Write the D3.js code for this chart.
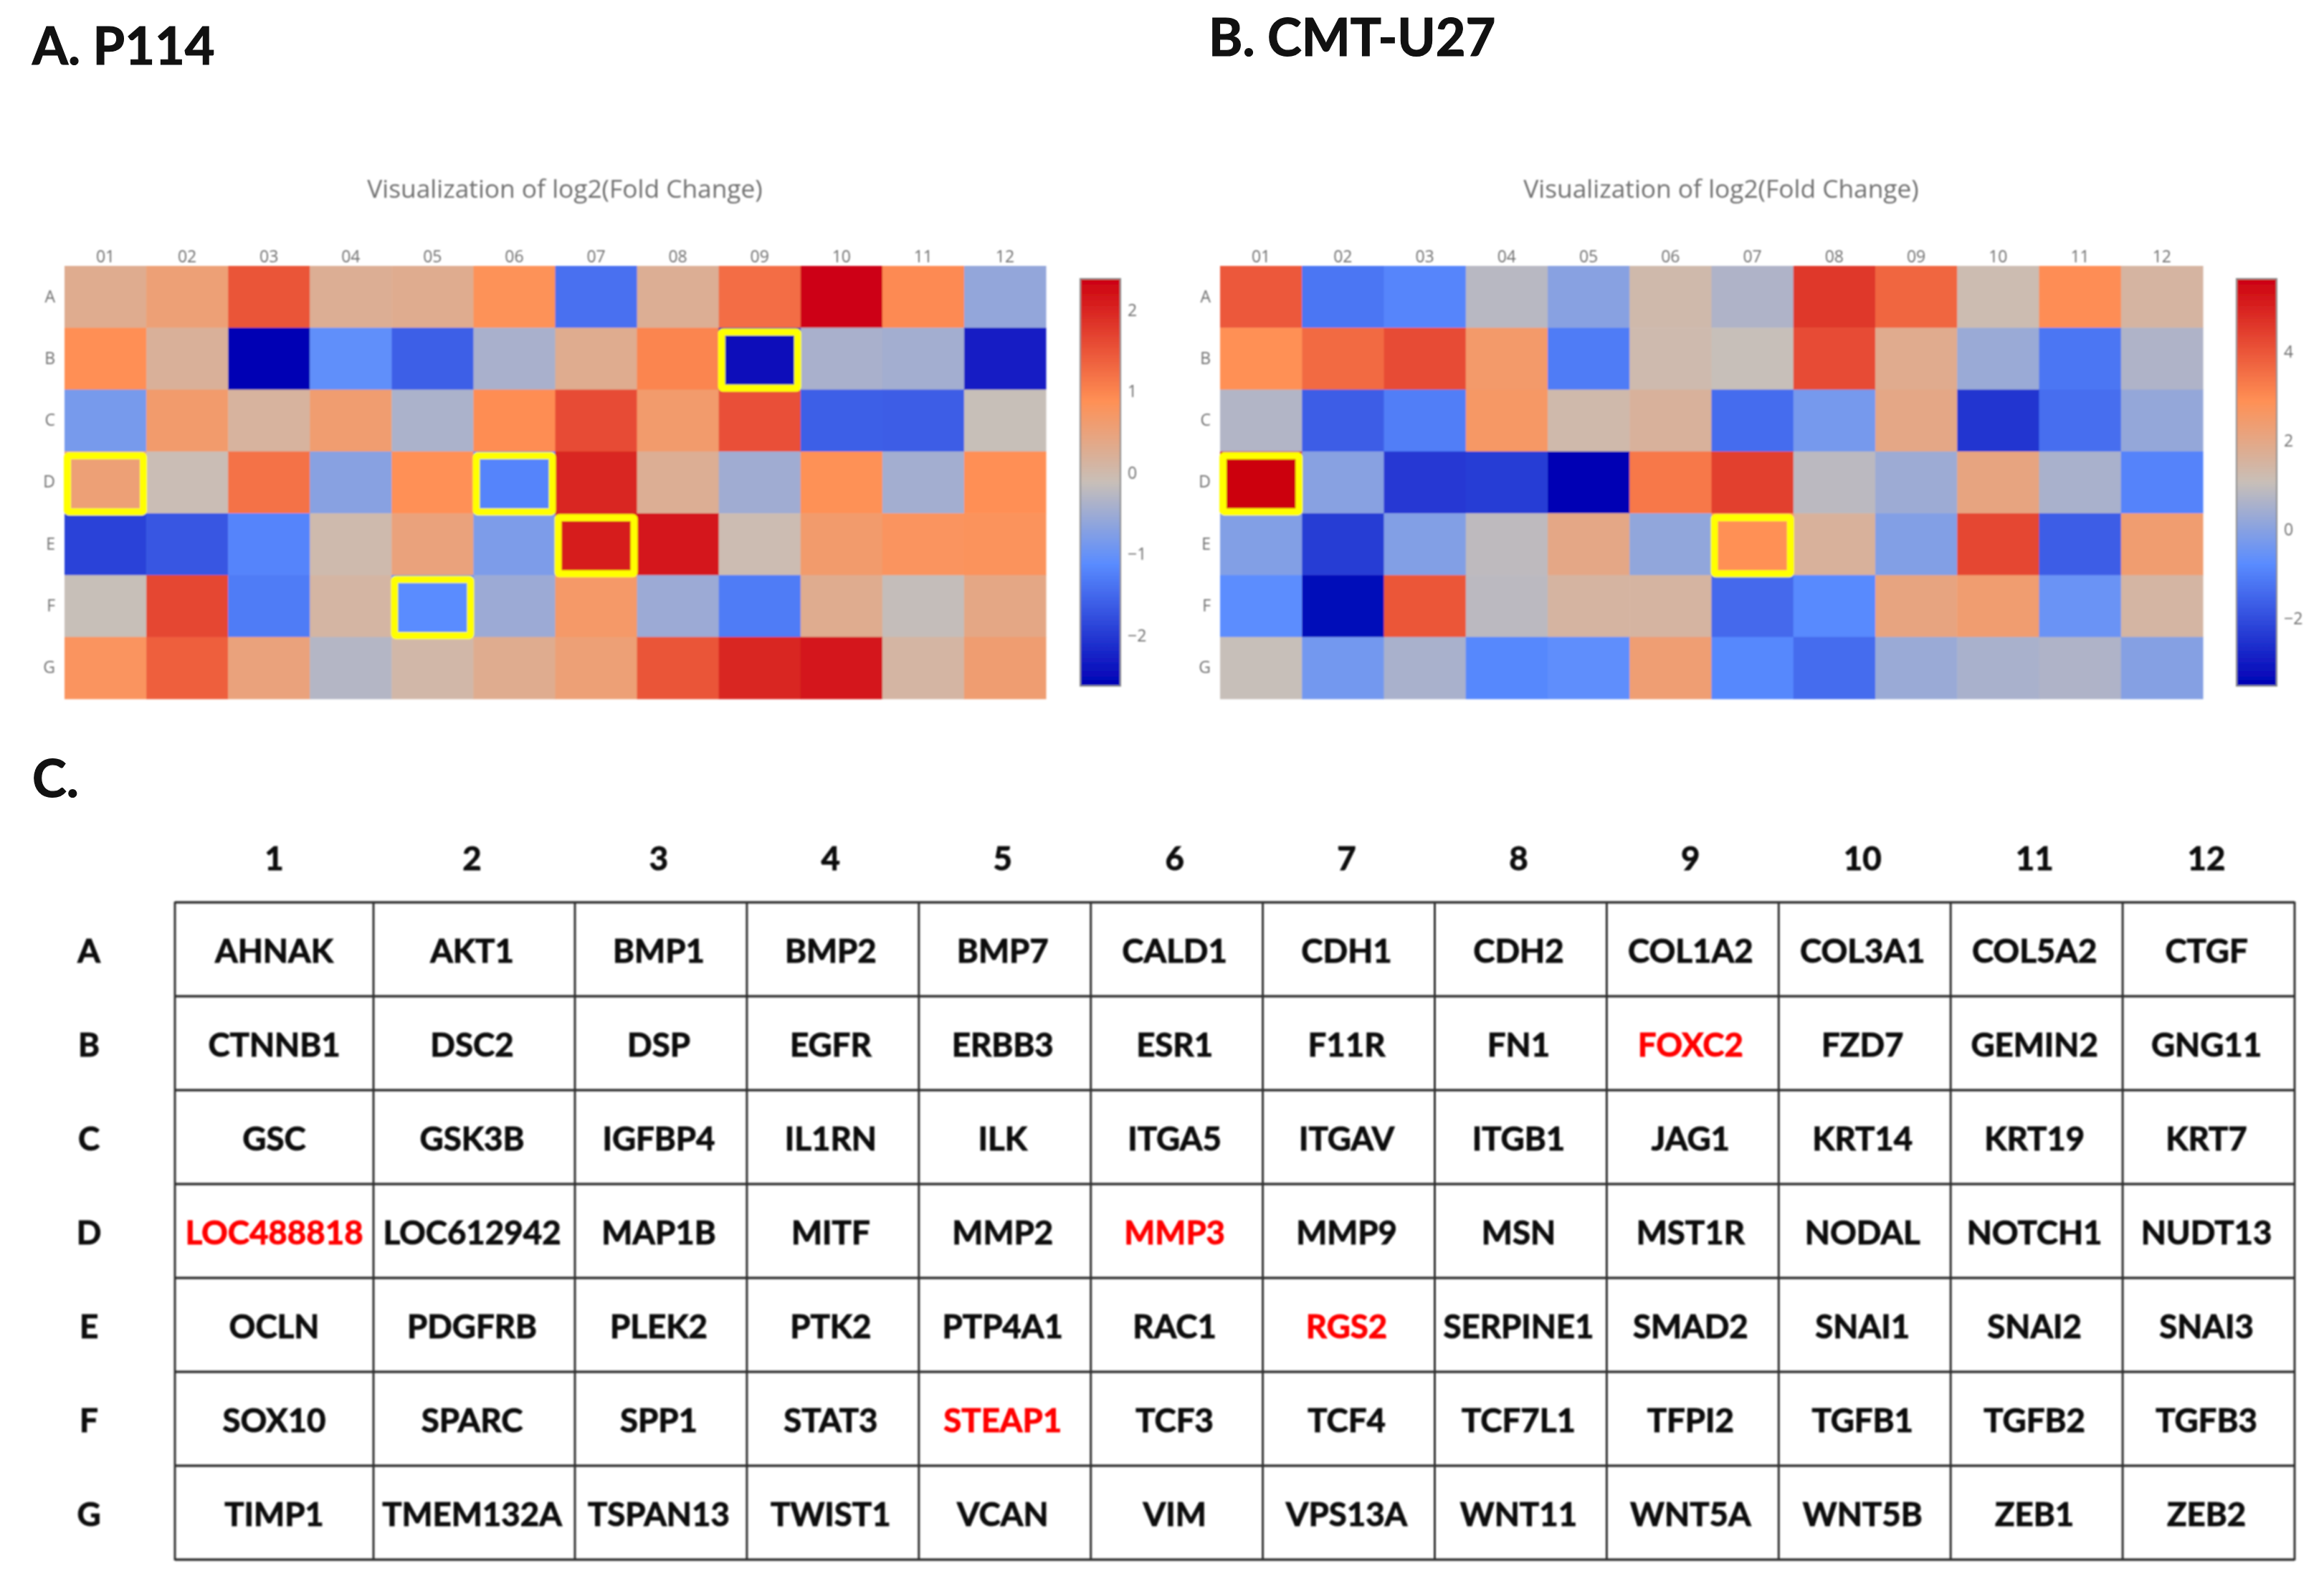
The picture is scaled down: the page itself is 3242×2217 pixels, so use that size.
<!DOCTYPE html>
<html><head><meta charset="utf-8">
<script src="https://cdn.jsdelivr.net/npm/d3@7/dist/d3.min.js"></script>
<style>html,body{margin:0;padding:0;background:#fff}svg{display:block}</style>
</head><body><svg id="c" width="3242" height="2217"></svg>
<script>
const rows=["A","B","C","D","E","F","G"];
const cols=["01","02","03","04","05","06","07","08","09","10","11","12"];
const tableCols=["1","2","3","4","5","6","7","8","9","10","11","12"];
const p114=[
[0.3,0.55,1.5,0.25,0.3,0.85,-1.42,0.25,1.25,2.35,0.95,-0.6],
[0.9,0.2,-2.62,-1.05,-1.6,-0.4,0.3,1.0,-2.5,-0.4,-0.45,-2.3],
[-0.85,0.65,0.15,0.62,-0.38,0.92,1.6,0.65,1.55,-1.6,-1.62,-0.12],
[0.55,-0.08,1.2,-0.7,0.88,-1.2,2.0,0.25,-0.48,0.87,-0.45,0.9],
[-1.9,-1.7,-1.2,0,0.5,-0.8,2.1,2.15,-0.05,0.65,0.8,0.82],
[-0.12,1.65,-1.3,0.1,-1.12,-0.52,0.7,-0.52,-1.3,0.3,-0.15,0.4],
[0.8,1.4,0.5,-0.3,0.05,0.3,0.55,1.5,2.0,2.15,0.1,0.6]];
const cmt=[
[3.95,-1.2,-0.9,0.8,0,1.3,0.65,4.6,3.7,1.2,2.95,1.5],
[2.9,3.6,4.2,2.5,-1.1,1.25,1.05,4.2,1.85,0.3,-1.2,0.65],
[0.7,-1.7,-1.05,2.6,1.3,1.6,-1.4,-0.3,2.0,-2.5,-1.35,0.2],
[5.65,0,-2.4,-2.3,-3.52,3.35,4.45,0.85,0.35,2.1,0.55,-0.95],
[-0.1,-2.35,-0.1,0.9,2.0,0.15,2.9,1.6,-0.1,4.3,-1.7,2.4],
[-0.75,-3.35,4.0,0.85,1.5,1.5,-1.45,-0.8,2.1,2.4,-0.5,1.45],
[1.05,-0.35,0.55,-0.85,-0.7,2.35,-0.85,-1.4,0.3,0.55,0.65,-0.05]];
const p114Domain=[-2.62,2.39];
const cmtDomain=[-3.52,5.65];
const p114Ticks=[-2,-1,0,1,2];
const cmtTicks=[-2,0,2,4];
const p114Marked=["D01","D06","E07","F05","B09"];
const cmtMarked=["D01","E07"];
const genes=[
["AHNAK","AKT1","BMP1","BMP2","BMP7","CALD1","CDH1","CDH2","COL1A2","COL3A1","COL5A2","CTGF"],
["CTNNB1","DSC2","DSP","EGFR","ERBB3","ESR1","F11R","FN1","FOXC2","FZD7","GEMIN2","GNG11"],
["GSC","GSK3B","IGFBP4","IL1RN","ILK","ITGA5","ITGAV","ITGB1","JAG1","KRT14","KRT19","KRT7"],
["LOC488818","LOC612942","MAP1B","MITF","MMP2","MMP3","MMP9","MSN","MST1R","NODAL","NOTCH1","NUDT13"],
["OCLN","PDGFRB","PLEK2","PTK2","PTP4A1","RAC1","RGS2","SERPINE1","SMAD2","SNAI1","SNAI2","SNAI3"],
["SOX10","SPARC","SPP1","STAT3","STEAP1","TCF3","TCF4","TCF7L1","TFPI2","TGFB1","TGFB2","TGFB3"],
["TIMP1","TMEM132A","TSPAN13","TWIST1","VCAN","VIM","VPS13A","WNT11","WNT5A","WNT5B","ZEB1","ZEB2"]];
const redGenes=["LOC488818","FOXC2","MMP3","RGS2","STEAP1"];
const stopOffsets=[0,0.3,0.5,0.7,1];
const stopColors=["#0000b4","#5a8cff","#c8bfb8","#ff9055","#cc0010"];
const panelTitle="Visualization of log2(Fold Change)";

const svg=d3.select("#c");
const defs=svg.append("defs");
defs.append("filter").attr("id","soft").attr("x","-5%").attr("y","-5%").attr("width","110%").attr("height","110%")
  .append("feGaussianBlur").attr("stdDeviation",1.2);
const label="'Lato','Noto Sans',sans-serif";
const plot="'Open Sans','Noto Sans',sans-serif";

function heat(id,values,domain,ticks,marked,L){
  const g=svg.append("g").attr("filter","url(#soft)");
  const x=d3.scaleBand().domain(cols).range([L.x0,L.x1]);
  const y=d3.scaleBand().domain(rows).range([L.y0,L.y1]);
  const frac=d3.scaleLinear().domain(domain).range([0,1]).clamp(true);
  const ramp=d3.scaleLinear().domain(stopOffsets).range(stopColors).interpolate(d3.interpolateRgb);
  const cells=values.flatMap((r,i)=>r.map((v,j)=>({row:rows[i],col:cols[j],v})));
  g.selectAll("rect.c").data(cells).join("rect").attr("class","c")
    .attr("x",d=>x(d.col)).attr("y",d=>y(d.row))
    .attr("width",x.bandwidth()+0.5).attr("height",y.bandwidth()+0.5)
    .attr("fill",d=>ramp(frac(d.v)));
  g.selectAll("rect.m").data(marked).join("rect").attr("class","m")
    .attr("x",d=>x(d.slice(1))+L.inset).attr("y",d=>y(d[0])+L.inset+2)
    .attr("width",x.bandwidth()-2*L.inset).attr("height",y.bandwidth()-2*L.inset)
    .attr("fill","none").attr("stroke","#ffff00").attr("stroke-width",10).attr("rx",2);
  const top=g.append("g").attr("transform",`translate(0,${L.y0})`)
    .call(d3.axisTop(x).tickSize(0).tickPadding(5));
  const left=g.append("g").attr("transform",`translate(${L.x0},0)`)
    .call(d3.axisLeft(y).tickSize(0).tickPadding(13));
  const cy=d3.scaleLinear().domain(domain).range([L.by1,L.by0]);
  const grad=defs.append("linearGradient").attr("id","g"+id).attr("x1",0).attr("y1",1).attr("x2",0).attr("y2",0);
  grad.selectAll("stop").data(stopOffsets).join("stop")
    .attr("offset",d=>d).attr("stop-color",(d,i)=>stopColors[i]);
  g.append("rect").attr("x",L.bx0).attr("y",L.by0).attr("width",L.bx1-L.bx0).attr("height",L.by1-L.by0)
    .attr("fill",`url(#g${id})`).attr("stroke","#8a8a8a").attr("stroke-width",2);
  const right=g.append("g").attr("transform",`translate(${L.bx1},0)`)
    .call(d3.axisRight(cy).tickValues(ticks).tickSize(0).tickPadding(10).tickFormat(d3.format("d")));
  [top,left,right].forEach(a=>{
    a.select(".domain").remove();
    a.selectAll("text").attr("font-family",plot).attr("font-size",23).attr("fill","#6e6e6e");
  });
  g.append("text").attr("x",L.titleX).attr("y",264).attr("dy","0.35em").attr("text-anchor","middle")
    .attr("font-family",plot).attr("font-size",35.3).attr("fill","#707070").text(panelTitle);
}
heat("a",p114,p114Domain,p114Ticks,p114Marked,{x0:90,x1:1459,y0:371,y1:975,bx0:1507,bx1:1563,by0:389,by1:957,inset:4,titleX:788});
heat("b",cmt,cmtDomain,cmtTicks,cmtMarked,{x0:1702,x1:3073,y0:371,y1:975,bx0:3120,bx1:3176,by0:389,by1:957,inset:4,titleX:2401});

const panelLabels=[["A. P114",45,90],["B. CMT-U27",1686,78],["C.",45,1112]];
svg.append("g").selectAll("text").data(panelLabels).join("text")
  .attr("x",d=>d[1]).attr("y",d=>d[2]).text(d=>d[0])
  .attr("font-family",label).attr("font-weight",700).attr("font-size",72).attr("fill","#111")
  .attr("stroke","#111").attr("stroke-width",1.2);

const tg=svg.append("g").attr("filter","url(#soft)");
const tx=d3.scaleLinear().domain([0,1,2,12]).range([244,521,802,3201]);
const ty=d3.scaleLinear().domain([0,7]).range([1259,2176]);
const colMid=j=>(tx(j)+tx(j+1))/2-(j>0?3:0);
tg.selectAll("line.h").data(d3.range(8)).join("line").attr("class","h")
  .attr("x1",tx(0)).attr("x2",tx(12)).attr("y1",d=>ty(d)).attr("y2",d=>ty(d))
  .attr("stroke","#333").attr("stroke-width",3.5);
tg.selectAll("line.v").data(d3.range(13)).join("line").attr("class","v")
  .attr("y1",ty(0)-1).attr("y2",ty(7)+1).attr("x1",d=>tx(d)).attr("x2",d=>tx(d))
  .attr("stroke","#333").attr("stroke-width",3);
const txt=s=>s.attr("font-family",label).attr("font-weight",700).attr("font-size",45.6).attr("text-anchor","middle").attr("dy","0.41em").attr("stroke-width",1);
tg.selectAll("text.ch").data(tableCols).join("text").attr("class","ch")
  .attr("x",(d,i)=>colMid(i)).attr("y",1195).text(d=>d).attr("fill","#111").attr("stroke","#111").call(txt);
tg.selectAll("text.rh").data(rows).join("text").attr("class","rh")
  .attr("x",124).attr("y",(d,i)=>(ty(i)+ty(i+1))/2).text(d=>d).attr("fill","#111").attr("stroke","#111").call(txt);
tg.selectAll("text.g").data(genes.flatMap((r,i)=>r.map((n,j)=>({n,i,j})))).join("text").attr("class","g")
  .attr("x",d=>colMid(d.j)).attr("y",d=>(ty(d.i)+ty(d.i+1))/2).text(d=>d.n)
  .attr("fill",d=>redGenes.includes(d.n)?"#ff0000":"#111")
  .attr("stroke",d=>redGenes.includes(d.n)?"#ff0000":"#111").call(txt);
</script></body></html>
